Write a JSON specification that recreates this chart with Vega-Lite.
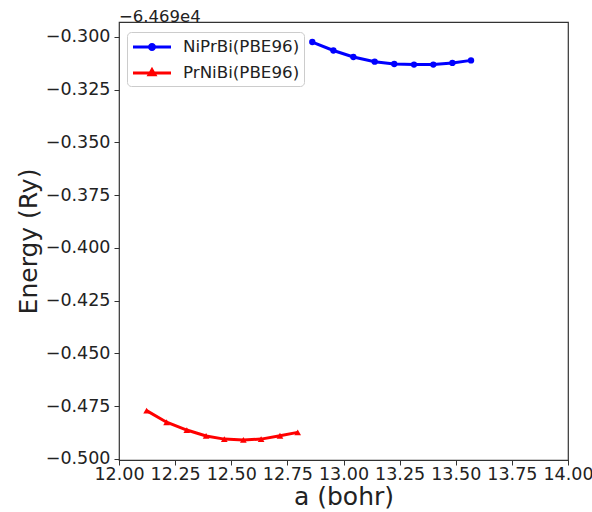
{
  "$schema": "https://vega.github.io/schema/vega-lite/v6.json",
  "width": 449,
  "height": 438,
  "autosize": "none",
  "padding": {"left": 119, "top": 22, "right": 24, "bottom": 52},
  "config": {
    "font": "DejaVu Sans",
    "view": {"stroke": "#333", "strokeWidth": 1.2},
    "axis": {"grid": false, "domain": false, "tickColor": "#333", "tickSize": 5, "labelColor": "#222", "titleColor": "#222", "titleFontWeight": "normal", "labelFontSize": 17.5, "titleFontSize": 25}
  },
  "title": {"text": "−6.469e4", "anchor": "start", "frame": "group", "fontSize": 16.5, "fontWeight": "normal", "color": "#222", "offset": -3, "dx": 0},
  "data": {"values": [
    {"series": "NiPrBi(PBE96)", "a": 12.861, "energy": -0.3024},
    {"series": "NiPrBi(PBE96)", "a": 12.955, "energy": -0.3064},
    {"series": "NiPrBi(PBE96)", "a": 13.044, "energy": -0.3095},
    {"series": "NiPrBi(PBE96)", "a": 13.139, "energy": -0.3117},
    {"series": "NiPrBi(PBE96)", "a": 13.226, "energy": -0.3128},
    {"series": "NiPrBi(PBE96)", "a": 13.314, "energy": -0.3131},
    {"series": "NiPrBi(PBE96)", "a": 13.400, "energy": -0.3131},
    {"series": "NiPrBi(PBE96)", "a": 13.485, "energy": -0.3123},
    {"series": "NiPrBi(PBE96)", "a": 13.568, "energy": -0.3111},
    {"series": "PrNiBi(PBE96)", "a": 12.123, "energy": -0.4772},
    {"series": "PrNiBi(PBE96)", "a": 12.212, "energy": -0.4827},
    {"series": "PrNiBi(PBE96)", "a": 12.302, "energy": -0.4864},
    {"series": "PrNiBi(PBE96)", "a": 12.388, "energy": -0.4892},
    {"series": "PrNiBi(PBE96)", "a": 12.469, "energy": -0.4907},
    {"series": "PrNiBi(PBE96)", "a": 12.554, "energy": -0.4911},
    {"series": "PrNiBi(PBE96)", "a": 12.633, "energy": -0.4907},
    {"series": "PrNiBi(PBE96)", "a": 12.717, "energy": -0.4891},
    {"series": "PrNiBi(PBE96)", "a": 12.796, "energy": -0.4875}
  ]},
  "encoding": {
    "x": {"field": "a", "type": "quantitative", "title": "a (bohr)",
      "scale": {"domain": [12, 14], "nice": false, "zero": false},
      "axis": {"values": [12, 12.25, 12.5, 12.75, 13, 13.25, 13.5, 13.75, 14], "format": ".2f", "labelPadding": 0, "titlePadding": 2, "labelFlush": false}},
    "y": {"field": "energy", "type": "quantitative", "title": "Energy (Ry)",
      "scale": {"domain": [-0.5006, -0.2929], "nice": false, "zero": false},
      "axis": {"values": [-0.5, -0.475, -0.45, -0.425, -0.4, -0.375, -0.35, -0.325, -0.3], "format": ".3f", "labelPadding": 4, "titlePadding": 4, "labelFlush": false}},
    "color": {"field": "series", "type": "nominal",
      "scale": {"domain": ["NiPrBi(PBE96)", "PrNiBi(PBE96)"], "range": ["#0000ff", "#ff0000"]},
      "legend": {"title": null, "orient": "none", "legendX": 8, "legendY": 10,
        "labelFontSize": 16.7, "labelColor": "#222", "symbolSize": 361, "symbolOffset": 10, "labelOffset": 20,
        "rowPadding": 6, "padding": 4, "strokeColor": "#ccc", "fillColor": "white", "cornerRadius": 4,
        "encode": {"symbols": {"update": {
          "shape": {"signal": "datum.value === 'NiPrBi(PBE96)' ? 'M-2,0H2M-0.28,0A0.28,0.28,0,1,1,0.28,0A0.28,0.28,0,1,1,-0.28,0Z' : 'M-2,0H2M0,-0.36L0.32,0.2L-0.32,0.2Z'"},
          "fill": {"signal": "datum.value === 'NiPrBi(PBE96)' ? '#0000ff' : '#ff0000'"},
          "stroke": {"signal": "datum.value === 'NiPrBi(PBE96)' ? '#0000ff' : '#ff0000'"},
          "strokeWidth": {"value": 2.8}
        }}}}}
  },
  "layer": [
    {
      "mark": {"type": "line", "strokeWidth": 3}
    },
    {
      "transform": [{"filter": "datum.series === 'NiPrBi(PBE96)'"}],
      "mark": {"type": "point", "filled": true, "size": 40, "opacity": 1, "shape": "circle"}
    },
    {
      "transform": [{"filter": "datum.series === 'PrNiBi(PBE96)'"}],
      "mark": {"type": "point", "filled": true, "size": 45, "opacity": 1, "shape": "triangle-up"}
    }
  ]
}
